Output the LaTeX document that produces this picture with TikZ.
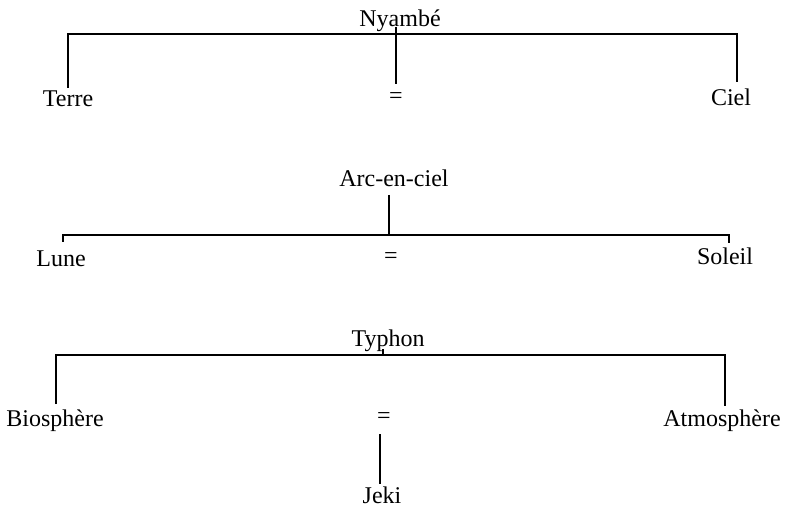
\documentclass[tikz,border=0pt]{standalone}
\usepackage{fontspec}
\setmainfont{Liberation Serif}
\begin{document}
\begin{tikzpicture}[x=1pt,y=-1pt,
  lbl/.style={anchor=base,inner sep=0pt,font=\fontsize{24}{28}\selectfont},
  bar/.style={line width=2.7pt,line cap=butt,line join=miter}]
\useasboundingbox (0,0) rectangle (788,508);
% Row 1
\node[lbl] (nyambe) at (400,27) {Nyambé};
\node[lbl] (terre) at (68,107) {Terre};
\node[lbl] (eq1) at (396,104) {=};
\node[lbl] (ciel) at (731,106) {Ciel};
\coordinate (n1l) at (68,88);
\coordinate (n1r) at (737,82);
\coordinate (n1c) at (396,84);
\coordinate (n1t) at (396,27);
\draw[bar] (n1l) |- (396,34) -| (n1r);
\draw[bar] (n1t) -- (n1c);
% Row 2
\node[lbl] (arc) at (394,187) {Arc-en-ciel};
\node[lbl] (lune) at (61,266) {Lune};
\node[lbl] (eq2) at (391,264) {=};
\node[lbl] (soleil) at (725,265) {Soleil};
\coordinate (a2t) at (389,195);
\coordinate (a2l) at (63,242);
\coordinate (a2r) at (729,243);
\draw[bar] (a2l) |- (389,235) -| (a2r);
\draw[bar] (a2t) -- (389,235);
% Row 3
\node[lbl] (typhon) at (388,346) {Typhon};
\node[lbl] (bio) at (55,426) {Biosphère};
\node[lbl] (eq3) at (384,423) {=};
\node[lbl] (atmo) at (722,426) {Atmosphère};
\node[lbl] (jeki) at (382,503) {Jeki};
\coordinate (t3l) at (56,404);
\coordinate (t3r) at (725,406);
\coordinate (t3c) at (383,349);
\draw[bar] (t3l) |- (383,355) -| (t3r);
\draw[bar] (t3c) -- (383,355);
\coordinate (j3t) at (380,434);
\coordinate (j3b) at (380,484);
\draw[bar] (j3t) -- (j3b);
\end{tikzpicture}
\end{document}
